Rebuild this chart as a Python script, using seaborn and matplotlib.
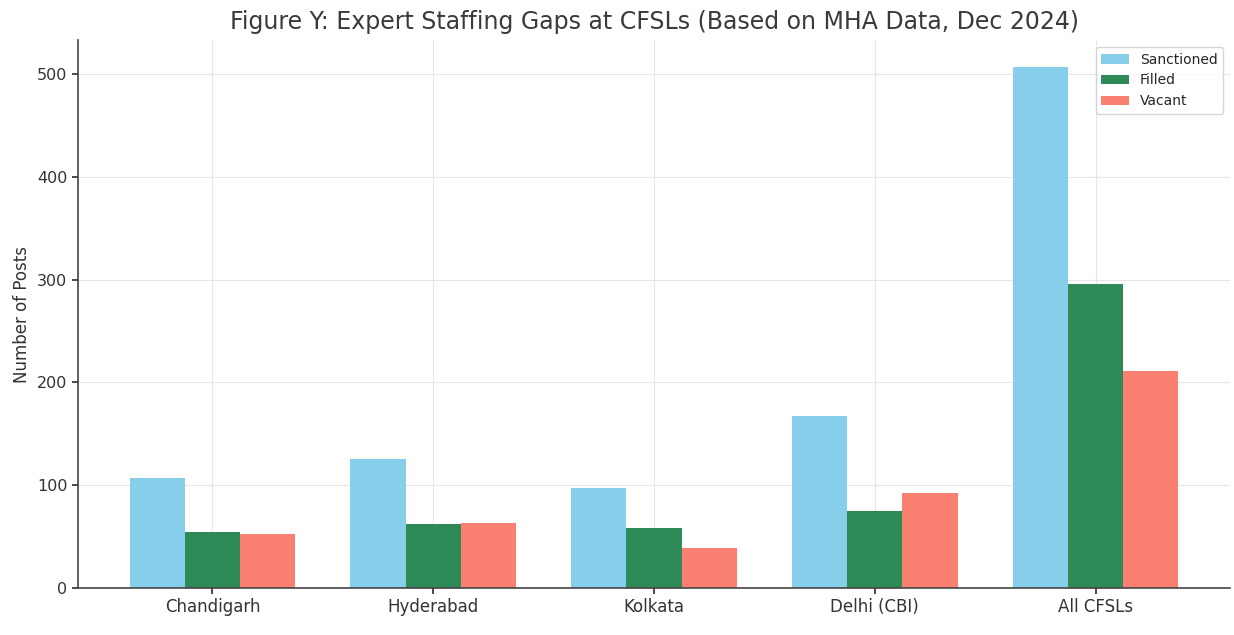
import pandas as pd
import seaborn as sns
import matplotlib.pyplot as plt

# Datos
centros = ["Chandigarh", "Hyderabad", "Kolkata", "Delhi (CBI)", "All CFSLs"]
sanctioned = [107, 125, 97, 167, 507]
filled = [54, 62, 58, 75, 296]
vacant = [53, 63, 39, 92, 211]
series = ["Sanctioned", "Filled", "Vacant"]
colores = ["skyblue", "seagreen", "salmon"]

df = pd.DataFrame({"CFSL": centros, "Sanctioned": sanctioned,
                   "Filled": filled, "Vacant": vacant})
df = df.melt(id_vars="CFSL", var_name="Tipo", value_name="Posts")

sns.set_theme(style="whitegrid", font="DejaVu Sans")
plt.rcParams["font.family"] = ["DejaVu Sans"]

fig, ax = plt.subplots(figsize=(12.34, 6.35), dpi=100)
sns.barplot(data=df, x="CFSL", y="Posts", hue="Tipo", hue_order=series,
            palette=colores, width=0.75, saturation=1, linewidth=0, ax=ax)

ax.set_xlim(-0.61, 4.61)
ax.set_ylim(0, 533)
ax.set_xlabel("")
ax.set_ylabel("Number of Posts", fontsize=12, color="#333333")
ax.set_title("Figure Y: Expert Staffing Gaps at CFSLs (Based on MHA Data, Dec 2024)",
             fontsize=17, color="#3a3a3a", pad=8)
ax.tick_params(axis="x", labelsize=12, colors="#333333", length=4, bottom=True)
ax.tick_params(axis="y", labelsize=11.5, colors="#333333", length=4, left=True)
ax.grid(True, color="#e6e6e6", linewidth=0.8)
for s in ["top", "right"]:
    ax.spines[s].set_visible(False)
for s in ["left", "bottom"]:
    ax.spines[s].set_color("#444444")
    ax.spines[s].set_linewidth(1.2)

ax.legend(loc="upper right", fontsize=10, frameon=True, title=None)

plt.subplots_adjust(left=0.063, right=0.997, top=0.937, bottom=0.074)
plt.savefig("out.png", dpi=100)
